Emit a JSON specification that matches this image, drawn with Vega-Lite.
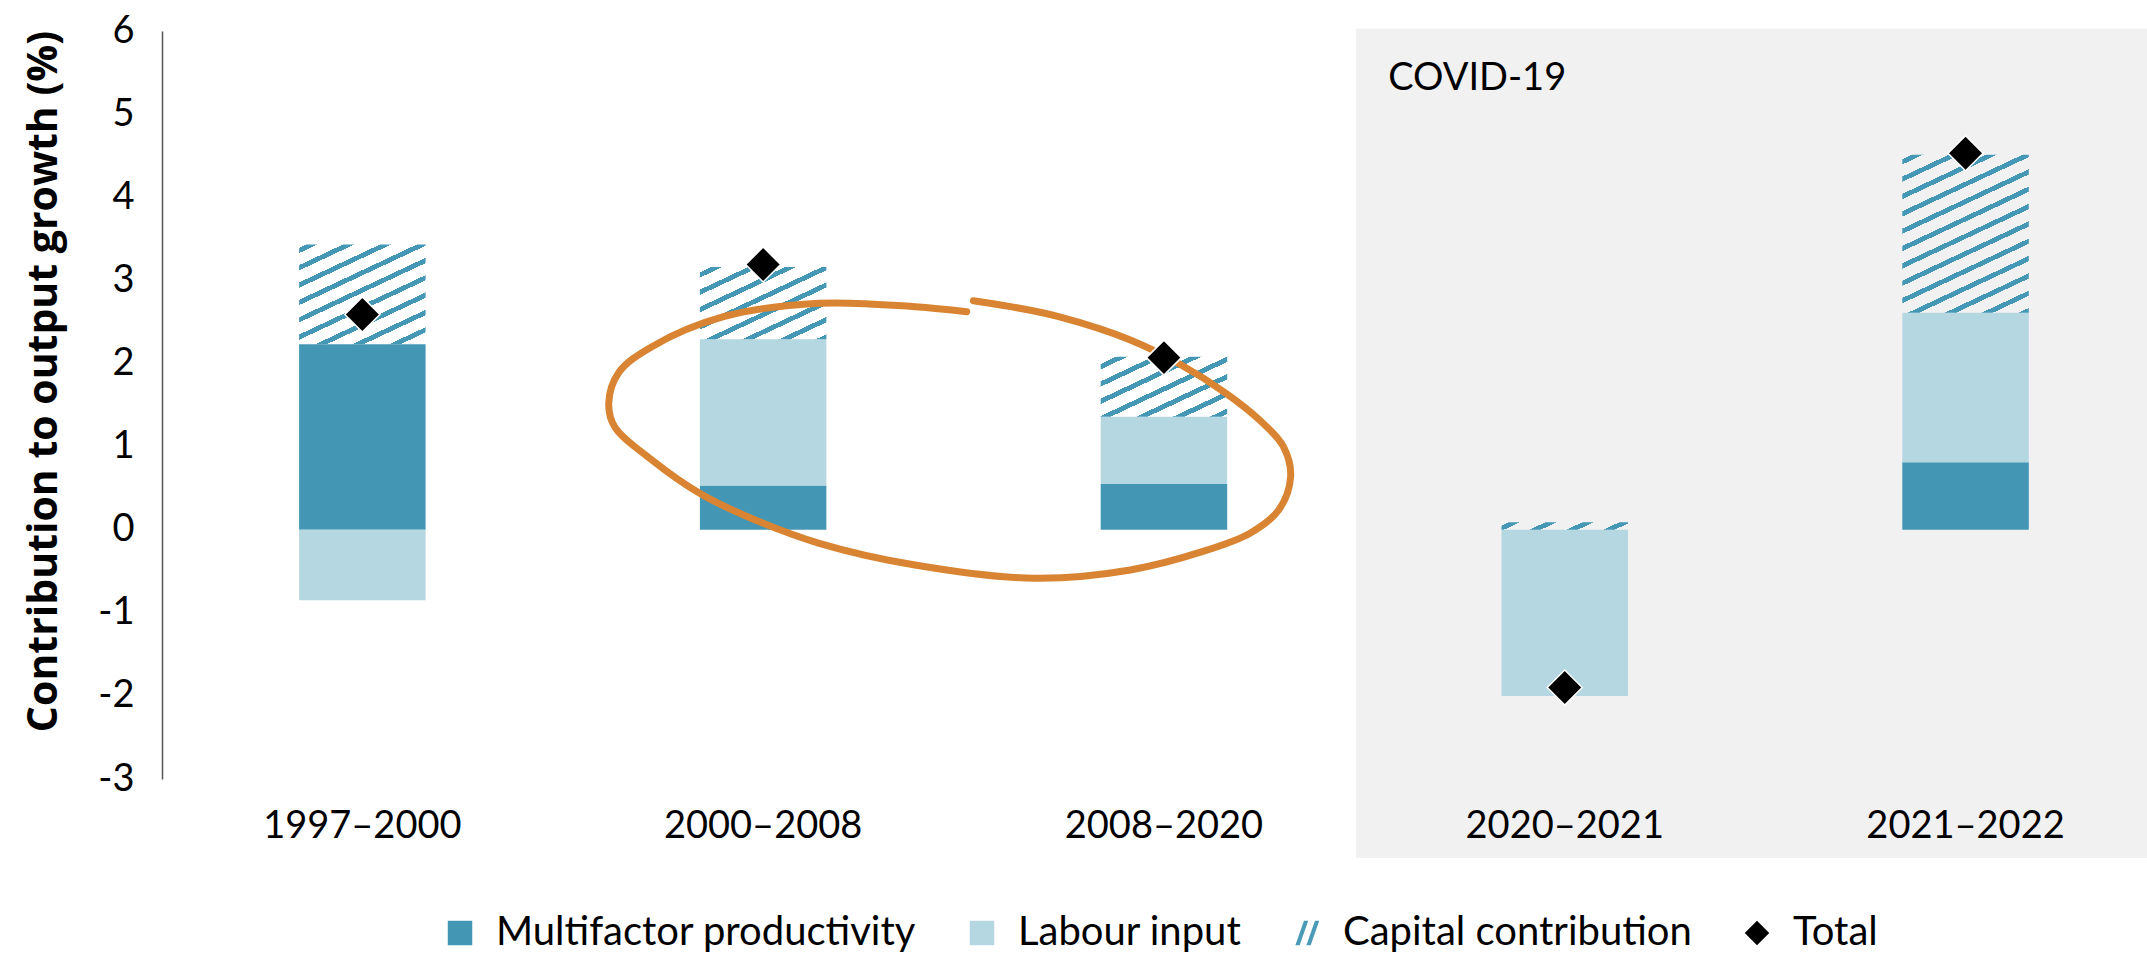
{
  "$schema": "https://vega.github.io/schema/vega-lite/v6.json",
  "width": 1985,
  "height": 748,
  "autosize": "none",
  "padding": {"left": 162, "top": 31, "right": 0, "bottom": 176},
  "background": "white",
  "config": {
    "view": {"stroke": null},
    "font": "Lato",
    "axis": {"labelColor": "#000000", "titleColor": "#000000", "labelFont": "Lato", "titleFont": "Lato", "zindex": 1},
    "axisY": {"titleFont": "Open Sans", "titleFontSize": 41, "titleFontWeight": "bold", "titleY": 350, "titlePadding": 32},
    "legend": {"labelFont": "Lato", "labelColor": "#000000"}
  },
  "datasets": {
    "bars": [
      {"period": "1997–2000", "component": "Multifactor productivity", "value": 2.23, "ord": 1},
      {"period": "1997–2000", "component": "Labour input", "value": -0.85, "ord": 2},
      {"period": "1997–2000", "component": "Capital contribution", "value": 1.20, "ord": 3},
      {"period": "2000–2008", "component": "Multifactor productivity", "value": 0.53, "ord": 1},
      {"period": "2000–2008", "component": "Labour input", "value": 1.76, "ord": 2},
      {"period": "2000–2008", "component": "Capital contribution", "value": 0.87, "ord": 3},
      {"period": "2008–2020", "component": "Multifactor productivity", "value": 0.55, "ord": 1},
      {"period": "2008–2020", "component": "Labour input", "value": 0.81, "ord": 2},
      {"period": "2008–2020", "component": "Capital contribution", "value": 0.72, "ord": 3},
      {"period": "2020–2021", "component": "Multifactor productivity", "value": 0.0, "ord": 1},
      {"period": "2020–2021", "component": "Labour input", "value": -2.0, "ord": 2},
      {"period": "2020–2021", "component": "Capital contribution", "value": 0.09, "ord": 3},
      {"period": "2021–2022", "component": "Multifactor productivity", "value": 0.81, "ord": 1},
      {"period": "2021–2022", "component": "Labour input", "value": 1.80, "ord": 2},
      {"period": "2021–2022", "component": "Capital contribution", "value": 1.90, "ord": 3}
    ],
    "totals": [
      {"period": "1997–2000", "component": "Total", "value": 2.59},
      {"period": "2000–2008", "component": "Total", "value": 3.19},
      {"period": "2008–2020", "component": "Total", "value": 2.07},
      {"period": "2020–2021", "component": "Total", "value": -1.90},
      {"period": "2021–2022", "component": "Total", "value": 4.53}
    ],
    "covid": [
      {"x0": 3.479, "x1": 5.47, "y0": 6.03, "y1": -3.95, "lx": 3.559, "ly": 5.29, "label": "COVID-19"}
    ],
    "ellipse": [
      {"ord": 1, "ix": 2.5075, "v": 2.623},
      {"ord": 2, "ix": 2.3785, "v": 2.683},
      {"ord": 3, "ix": 2.1397, "v": 2.724},
      {"ord": 4, "ix": 1.9010, "v": 2.563},
      {"ord": 5, "ix": 1.7221, "v": 2.202},
      {"ord": 6, "ix": 1.6400, "v": 1.893},
      {"ord": 7, "ix": 1.6145, "v": 1.521},
      {"ord": 8, "ix": 1.6297, "v": 1.235},
      {"ord": 9, "ix": 1.7221, "v": 0.839},
      {"ord": 10, "ix": 1.8413, "v": 0.438},
      {"ord": 11, "ix": 1.9608, "v": 0.156},
      {"ord": 12, "ix": 2.1397, "v": -0.164},
      {"ord": 13, "ix": 2.3785, "v": -0.425},
      {"ord": 14, "ix": 2.6769, "v": -0.585},
      {"ord": 15, "ix": 2.9157, "v": -0.485},
      {"ord": 16, "ix": 3.0948, "v": -0.265},
      {"ord": 17, "ix": 3.2143, "v": -0.043},
      {"ord": 18, "ix": 3.2859, "v": 0.237},
      {"ord": 19, "ix": 3.3156, "v": 0.638},
      {"ord": 20, "ix": 3.2976, "v": 0.999},
      {"ord": 21, "ix": 3.2380, "v": 1.320},
      {"ord": 22, "ix": 3.1544, "v": 1.641},
      {"ord": 23, "ix": 3.0352, "v": 2.002},
      {"ord": 24, "ix": 2.9157, "v": 2.283},
      {"ord": 25, "ix": 2.7368, "v": 2.563},
      {"ord": 26, "ix": 2.6173, "v": 2.683},
      {"ord": 27, "ix": 2.5242, "v": 2.755}
    ]
  },
  "layer": [
    {
      "data": {"name": "covid"},
      "mark": {"type": "rect", "color": "#f1f1f1"},
      "encoding": {
        "x": {"field": "x0", "type": "quantitative", "scale": {"domain": [0.5, 5.452], "nice": false, "zero": false}, "axis": null},
        "x2": {"field": "x1"},
        "y": {"field": "y0", "type": "quantitative", "title": "Contribution to output growth (%)", "scale": {"domain": [-3, 6], "nice": false, "zero": false},
          "axis": {"orient": "left", "values": [-3, -2, -1, 0, 1, 2, 3, 4, 5, 6], "labelExpr": "'' + datum.value", "grid": false, "ticks": false, "domain": true, "domainColor": "#555555", "domainWidth": 1.5, "labelFontSize": 38, "labelPadding": 28}},
        "y2": {"field": "y1"}
      }
    },
    {
      "data": {"name": "covid"},
      "mark": {"type": "text", "align": "left", "baseline": "alphabetic", "fontSize": 38, "font": "Lato", "color": "#000000"},
      "encoding": {
        "x": {"field": "lx", "type": "quantitative", "scale": {"domain": [0.5, 5.452], "nice": false, "zero": false}, "axis": null},
        "y": {"field": "ly", "type": "quantitative", "title": "Contribution to output growth (%)", "scale": {"domain": [-3, 6], "nice": false, "zero": false},
          "axis": {"orient": "left", "values": [-3, -2, -1, 0, 1, 2, 3, 4, 5, 6], "labelExpr": "'' + datum.value", "grid": false, "ticks": false, "domain": true, "domainColor": "#555555", "domainWidth": 1.5, "labelFontSize": 38, "labelPadding": 28}},
        "text": {"field": "label"}
      }
    },
    {
      "data": {"name": "bars"},
      "transform": [
        {"stack": "value", "groupby": ["period"], "sort": [{"field": "ord", "order": "ascending"}], "as": ["y0", "y1"]},
        {"filter": "datum.component !== 'Capital contribution'"}
      ],
      "mark": {"type": "bar"},
      "encoding": {
        "x": {"field": "period", "type": "nominal", "sort": null,
          "scale": {"type": "band", "domain": ["1997–2000", "2000–2008", "2008–2020", "2020–2021", "2021–2022"], "paddingInner": 0.6844, "paddingOuter": 0.3185, "align": 0.537},
          "axis": {"title": null, "domain": false, "ticks": false, "labelFontSize": 38, "labelPadding": 28, "labelAngle": 0, "labelColor": "#000000", "labelLimit": 0, "zindex": 1}},
        "y": {"field": "y0", "type": "quantitative", "title": "Contribution to output growth (%)", "scale": {"domain": [-3, 6], "nice": false, "zero": false},
          "axis": {"orient": "left", "values": [-3, -2, -1, 0, 1, 2, 3, 4, 5, 6], "labelExpr": "'' + datum.value", "grid": false, "ticks": false, "domain": true, "domainColor": "#555555", "domainWidth": 1.5, "labelFontSize": 38, "labelPadding": 28}},
        "y2": {"field": "y1"},
        "fill": {"field": "component", "type": "nominal", "legend": null,
          "scale": {"domain": ["Multifactor productivity", "Labour input"], "range": ["#4397b5", "#b5d7e1"]}}
      }
    },
    {
      "data": {"name": "bars"},
      "transform": [
        {"stack": "value", "groupby": ["period"], "sort": [{"field": "ord", "order": "ascending"}], "as": ["y0", "y1"]},
        {"filter": "datum.component === 'Capital contribution' && datum.period === '1997–2000'"}
      ],
      "mark": {"type": "bar", "fill": {"gradient": "linear", "x1": 0, "y1": 0, "x2": 0.7020, "y2": 1.1777, "stops": [
        {"offset": 0, "color": "rgba(255,255,255,0)"},
        {"offset": 0.02, "color": "rgba(255,255,255,0)"}, {"offset": 0.02, "color": "#4597b6"}, {"offset": 0.0535, "color": "#4597b6"}, {"offset": 0.0535, "color": "rgba(255,255,255,0)"},
        {"offset": 0.129, "color": "rgba(255,255,255,0)"}, {"offset": 0.129, "color": "#4597b6"}, {"offset": 0.1625, "color": "#4597b6"}, {"offset": 0.1625, "color": "rgba(255,255,255,0)"},
        {"offset": 0.238, "color": "rgba(255,255,255,0)"}, {"offset": 0.238, "color": "#4597b6"}, {"offset": 0.2715, "color": "#4597b6"}, {"offset": 0.2715, "color": "rgba(255,255,255,0)"},
        {"offset": 0.3469, "color": "rgba(255,255,255,0)"}, {"offset": 0.3469, "color": "#4597b6"}, {"offset": 0.3804, "color": "#4597b6"}, {"offset": 0.3804, "color": "rgba(255,255,255,0)"},
        {"offset": 0.4559, "color": "rgba(255,255,255,0)"}, {"offset": 0.4559, "color": "#4597b6"}, {"offset": 0.4894, "color": "#4597b6"}, {"offset": 0.4894, "color": "rgba(255,255,255,0)"},
        {"offset": 0.5649, "color": "rgba(255,255,255,0)"}, {"offset": 0.5649, "color": "#4597b6"}, {"offset": 0.5984, "color": "#4597b6"}, {"offset": 0.5984, "color": "rgba(255,255,255,0)"},
        {"offset": 0.6739, "color": "rgba(255,255,255,0)"}, {"offset": 0.6739, "color": "#4597b6"}, {"offset": 0.7074, "color": "#4597b6"}, {"offset": 0.7074, "color": "rgba(255,255,255,0)"},
        {"offset": 0.7829, "color": "rgba(255,255,255,0)"}, {"offset": 0.7829, "color": "#4597b6"}, {"offset": 0.8164, "color": "#4597b6"}, {"offset": 0.8164, "color": "rgba(255,255,255,0)"},
        {"offset": 0.8918, "color": "rgba(255,255,255,0)"}, {"offset": 0.8918, "color": "#4597b6"}, {"offset": 0.9253, "color": "#4597b6"}, {"offset": 0.9253, "color": "rgba(255,255,255,0)"},
        {"offset": 1, "color": "rgba(255,255,255,0)"}
      ]}},
      "encoding": {
        "x": {"field": "period", "type": "nominal", "sort": null, "scale": {"type": "band", "domain": ["1997–2000", "2000–2008", "2008–2020", "2020–2021", "2021–2022"], "paddingInner": 0.6844, "paddingOuter": 0.3185, "align": 0.537}, "axis": null},
        "y": {"field": "y0", "type": "quantitative", "title": "Contribution to output growth (%)", "scale": {"domain": [-3, 6], "nice": false, "zero": false},
          "axis": {"orient": "left", "values": [-3, -2, -1, 0, 1, 2, 3, 4, 5, 6], "labelExpr": "'' + datum.value", "grid": false, "ticks": false, "domain": true, "domainColor": "#555555", "domainWidth": 1.5, "labelFontSize": 38, "labelPadding": 28}},
        "y2": {"field": "y1"}
      }
    },
    {
      "data": {"name": "bars"},
      "transform": [
        {"stack": "value", "groupby": ["period"], "sort": [{"field": "ord", "order": "ascending"}], "as": ["y0", "y1"]},
        {"filter": "datum.component === 'Capital contribution' && datum.period === '2000–2008'"}
      ],
      "mark": {"type": "bar", "fill": {"gradient": "linear", "x1": 0, "y1": 0, "x2": 0.8938, "y2": 1.0872, "stops": [
        {"offset": 0, "color": "rgba(255,255,255,0)"},
        {"offset": 0.04, "color": "rgba(255,255,255,0)"}, {"offset": 0.04, "color": "#4597b6"}, {"offset": 0.0805, "color": "#4597b6"}, {"offset": 0.0805, "color": "rgba(255,255,255,0)"},
        {"offset": 0.1717, "color": "rgba(255,255,255,0)"}, {"offset": 0.1717, "color": "#4597b6"}, {"offset": 0.2122, "color": "#4597b6"}, {"offset": 0.2122, "color": "rgba(255,255,255,0)"},
        {"offset": 0.3033, "color": "rgba(255,255,255,0)"}, {"offset": 0.3033, "color": "#4597b6"}, {"offset": 0.3438, "color": "#4597b6"}, {"offset": 0.3438, "color": "rgba(255,255,255,0)"},
        {"offset": 0.435, "color": "rgba(255,255,255,0)"}, {"offset": 0.435, "color": "#4597b6"}, {"offset": 0.4755, "color": "#4597b6"}, {"offset": 0.4755, "color": "rgba(255,255,255,0)"},
        {"offset": 0.5667, "color": "rgba(255,255,255,0)"}, {"offset": 0.5667, "color": "#4597b6"}, {"offset": 0.6072, "color": "#4597b6"}, {"offset": 0.6072, "color": "rgba(255,255,255,0)"},
        {"offset": 0.6984, "color": "rgba(255,255,255,0)"}, {"offset": 0.6984, "color": "#4597b6"}, {"offset": 0.7389, "color": "#4597b6"}, {"offset": 0.7389, "color": "rgba(255,255,255,0)"},
        {"offset": 0.83, "color": "rgba(255,255,255,0)"}, {"offset": 0.83, "color": "#4597b6"}, {"offset": 0.8705, "color": "#4597b6"}, {"offset": 0.8705, "color": "rgba(255,255,255,0)"},
        {"offset": 0.9617, "color": "rgba(255,255,255,0)"}, {"offset": 0.9617, "color": "#4597b6"}, {"offset": 1, "color": "#4597b6"}
      ]}},
      "encoding": {
        "x": {"field": "period", "type": "nominal", "sort": null, "scale": {"type": "band", "domain": ["1997–2000", "2000–2008", "2008–2020", "2020–2021", "2021–2022"], "paddingInner": 0.6844, "paddingOuter": 0.3185, "align": 0.537}, "axis": null},
        "y": {"field": "y0", "type": "quantitative", "title": "Contribution to output growth (%)", "scale": {"domain": [-3, 6], "nice": false, "zero": false},
          "axis": {"orient": "left", "values": [-3, -2, -1, 0, 1, 2, 3, 4, 5, 6], "labelExpr": "'' + datum.value", "grid": false, "ticks": false, "domain": true, "domainColor": "#555555", "domainWidth": 1.5, "labelFontSize": 38, "labelPadding": 28}},
        "y2": {"field": "y1"}
      }
    },
    {
      "data": {"name": "bars"},
      "transform": [
        {"stack": "value", "groupby": ["period"], "sort": [{"field": "ord", "order": "ascending"}], "as": ["y0", "y1"]},
        {"filter": "datum.component === 'Capital contribution' && datum.period === '2008–2020'"}
      ],
      "mark": {"type": "bar", "fill": {"gradient": "linear", "x1": 0, "y1": 0, "x2": 0.9967, "y2": 1.0034, "stops": [
        {"offset": 0, "color": "rgba(255,255,255,0)"},
        {"offset": 0.06, "color": "rgba(255,255,255,0)"}, {"offset": 0.06, "color": "#4597b6"}, {"offset": 0.1055, "color": "#4597b6"}, {"offset": 0.1055, "color": "rgba(255,255,255,0)"},
        {"offset": 0.2054, "color": "rgba(255,255,255,0)"}, {"offset": 0.2054, "color": "#4597b6"}, {"offset": 0.2509, "color": "#4597b6"}, {"offset": 0.2509, "color": "rgba(255,255,255,0)"},
        {"offset": 0.3508, "color": "rgba(255,255,255,0)"}, {"offset": 0.3508, "color": "#4597b6"}, {"offset": 0.3963, "color": "#4597b6"}, {"offset": 0.3963, "color": "rgba(255,255,255,0)"},
        {"offset": 0.4963, "color": "rgba(255,255,255,0)"}, {"offset": 0.4963, "color": "#4597b6"}, {"offset": 0.5418, "color": "#4597b6"}, {"offset": 0.5418, "color": "rgba(255,255,255,0)"},
        {"offset": 0.6417, "color": "rgba(255,255,255,0)"}, {"offset": 0.6417, "color": "#4597b6"}, {"offset": 0.6872, "color": "#4597b6"}, {"offset": 0.6872, "color": "rgba(255,255,255,0)"},
        {"offset": 0.7871, "color": "rgba(255,255,255,0)"}, {"offset": 0.7871, "color": "#4597b6"}, {"offset": 0.8326, "color": "#4597b6"}, {"offset": 0.8326, "color": "rgba(255,255,255,0)"},
        {"offset": 0.9325, "color": "rgba(255,255,255,0)"}, {"offset": 0.9325, "color": "#4597b6"}, {"offset": 0.978, "color": "#4597b6"}, {"offset": 0.978, "color": "rgba(255,255,255,0)"},
        {"offset": 1, "color": "rgba(255,255,255,0)"}
      ]}},
      "encoding": {
        "x": {"field": "period", "type": "nominal", "sort": null, "scale": {"type": "band", "domain": ["1997–2000", "2000–2008", "2008–2020", "2020–2021", "2021–2022"], "paddingInner": 0.6844, "paddingOuter": 0.3185, "align": 0.537}, "axis": null},
        "y": {"field": "y0", "type": "quantitative", "title": "Contribution to output growth (%)", "scale": {"domain": [-3, 6], "nice": false, "zero": false},
          "axis": {"orient": "left", "values": [-3, -2, -1, 0, 1, 2, 3, 4, 5, 6], "labelExpr": "'' + datum.value", "grid": false, "ticks": false, "domain": true, "domainColor": "#555555", "domainWidth": 1.5, "labelFontSize": 38, "labelPadding": 28}},
        "y2": {"field": "y1"}
      }
    },
    {
      "data": {"name": "bars"},
      "transform": [
        {"stack": "value", "groupby": ["period"], "sort": [{"field": "ord", "order": "ascending"}], "as": ["y0", "y1"]},
        {"filter": "datum.component === 'Capital contribution' && datum.period === '2020–2021'"}
      ],
      "mark": {"type": "bar", "fill": {"gradient": "linear", "x1": 0, "y1": 0, "x2": 1.1082, "y2": 0.1394, "stops": [
        {"offset": 0, "color": "rgba(255,255,255,0)"},
        {"offset": 0.05, "color": "rgba(255,255,255,0)"}, {"offset": 0.05, "color": "#4597b6"}, {"offset": 0.13, "color": "#4597b6"}, {"offset": 0.13, "color": "rgba(255,255,255,0)"},
        {"offset": 0.3092, "color": "rgba(255,255,255,0)"}, {"offset": 0.3092, "color": "#4597b6"}, {"offset": 0.3892, "color": "#4597b6"}, {"offset": 0.3892, "color": "rgba(255,255,255,0)"},
        {"offset": 0.5684, "color": "rgba(255,255,255,0)"}, {"offset": 0.5684, "color": "#4597b6"}, {"offset": 0.6484, "color": "#4597b6"}, {"offset": 0.6484, "color": "rgba(255,255,255,0)"},
        {"offset": 0.8276, "color": "rgba(255,255,255,0)"}, {"offset": 0.8276, "color": "#4597b6"}, {"offset": 0.9076, "color": "#4597b6"}, {"offset": 0.9076, "color": "rgba(255,255,255,0)"},
        {"offset": 1, "color": "rgba(255,255,255,0)"}
      ]}},
      "encoding": {
        "x": {"field": "period", "type": "nominal", "sort": null, "scale": {"type": "band", "domain": ["1997–2000", "2000–2008", "2008–2020", "2020–2021", "2021–2022"], "paddingInner": 0.6844, "paddingOuter": 0.3185, "align": 0.537}, "axis": null},
        "y": {"field": "y0", "type": "quantitative", "title": "Contribution to output growth (%)", "scale": {"domain": [-3, 6], "nice": false, "zero": false},
          "axis": {"orient": "left", "values": [-3, -2, -1, 0, 1, 2, 3, 4, 5, 6], "labelExpr": "'' + datum.value", "grid": false, "ticks": false, "domain": true, "domainColor": "#555555", "domainWidth": 1.5, "labelFontSize": 38, "labelPadding": 28}},
        "y2": {"field": "y1"}
      }
    },
    {
      "data": {"name": "bars"},
      "transform": [
        {"stack": "value", "groupby": ["period"], "sort": [{"field": "ord", "order": "ascending"}], "as": ["y0", "y1"]},
        {"filter": "datum.component === 'Capital contribution' && datum.period === '2021–2022'"}
      ],
      "mark": {"type": "bar", "fill": {"gradient": "linear", "x1": 0, "y1": 0, "x2": 0.4539, "y2": 1.2056, "stops": [
        {"offset": 0, "color": "rgba(255,255,255,0)"},
        {"offset": 0.02, "color": "rgba(255,255,255,0)"}, {"offset": 0.02, "color": "#4597b6"}, {"offset": 0.0445, "color": "#4597b6"}, {"offset": 0.0445, "color": "rgba(255,255,255,0)"},
        {"offset": 0.0998, "color": "rgba(255,255,255,0)"}, {"offset": 0.0998, "color": "#4597b6"}, {"offset": 0.1243, "color": "#4597b6"}, {"offset": 0.1243, "color": "rgba(255,255,255,0)"},
        {"offset": 0.1796, "color": "rgba(255,255,255,0)"}, {"offset": 0.1796, "color": "#4597b6"}, {"offset": 0.2041, "color": "#4597b6"}, {"offset": 0.2041, "color": "rgba(255,255,255,0)"},
        {"offset": 0.2594, "color": "rgba(255,255,255,0)"}, {"offset": 0.2594, "color": "#4597b6"}, {"offset": 0.2839, "color": "#4597b6"}, {"offset": 0.2839, "color": "rgba(255,255,255,0)"},
        {"offset": 0.3392, "color": "rgba(255,255,255,0)"}, {"offset": 0.3392, "color": "#4597b6"}, {"offset": 0.3637, "color": "#4597b6"}, {"offset": 0.3637, "color": "rgba(255,255,255,0)"},
        {"offset": 0.4191, "color": "rgba(255,255,255,0)"}, {"offset": 0.4191, "color": "#4597b6"}, {"offset": 0.4436, "color": "#4597b6"}, {"offset": 0.4436, "color": "rgba(255,255,255,0)"},
        {"offset": 0.4989, "color": "rgba(255,255,255,0)"}, {"offset": 0.4989, "color": "#4597b6"}, {"offset": 0.5234, "color": "#4597b6"}, {"offset": 0.5234, "color": "rgba(255,255,255,0)"},
        {"offset": 0.5787, "color": "rgba(255,255,255,0)"}, {"offset": 0.5787, "color": "#4597b6"}, {"offset": 0.6032, "color": "#4597b6"}, {"offset": 0.6032, "color": "rgba(255,255,255,0)"},
        {"offset": 0.6585, "color": "rgba(255,255,255,0)"}, {"offset": 0.6585, "color": "#4597b6"}, {"offset": 0.683, "color": "#4597b6"}, {"offset": 0.683, "color": "rgba(255,255,255,0)"},
        {"offset": 0.7383, "color": "rgba(255,255,255,0)"}, {"offset": 0.7383, "color": "#4597b6"}, {"offset": 0.7628, "color": "#4597b6"}, {"offset": 0.7628, "color": "rgba(255,255,255,0)"},
        {"offset": 0.8181, "color": "rgba(255,255,255,0)"}, {"offset": 0.8181, "color": "#4597b6"}, {"offset": 0.8426, "color": "#4597b6"}, {"offset": 0.8426, "color": "rgba(255,255,255,0)"},
        {"offset": 0.8979, "color": "rgba(255,255,255,0)"}, {"offset": 0.8979, "color": "#4597b6"}, {"offset": 0.9224, "color": "#4597b6"}, {"offset": 0.9224, "color": "rgba(255,255,255,0)"},
        {"offset": 0.9777, "color": "rgba(255,255,255,0)"}, {"offset": 0.9777, "color": "#4597b6"}, {"offset": 1, "color": "#4597b6"}
      ]}},
      "encoding": {
        "x": {"field": "period", "type": "nominal", "sort": null, "scale": {"type": "band", "domain": ["1997–2000", "2000–2008", "2008–2020", "2020–2021", "2021–2022"], "paddingInner": 0.6844, "paddingOuter": 0.3185, "align": 0.537}, "axis": null},
        "y": {"field": "y0", "type": "quantitative", "title": "Contribution to output growth (%)", "scale": {"domain": [-3, 6], "nice": false, "zero": false},
          "axis": {"orient": "left", "values": [-3, -2, -1, 0, 1, 2, 3, 4, 5, 6], "labelExpr": "'' + datum.value", "grid": false, "ticks": false, "domain": true, "domainColor": "#555555", "domainWidth": 1.5, "labelFontSize": 38, "labelPadding": 28}},
        "y2": {"field": "y1"}
      }
    },
    {
      "mark": {"type": "rule", "color": "#666666", "strokeWidth": 1.5},
      "encoding": {
        "y": {"datum": 0, "type": "quantitative", "title": "Contribution to output growth (%)", "scale": {"domain": [-3, 6], "nice": false, "zero": false},
          "axis": {"orient": "left", "values": [-3, -2, -1, 0, 1, 2, 3, 4, 5, 6], "labelExpr": "'' + datum.value", "grid": false, "ticks": false, "domain": true, "domainColor": "#555555", "domainWidth": 1.5, "labelFontSize": 38, "labelPadding": 28}}
      }
    },
    {
      "data": {"name": "ellipse"},
      "mark": {"type": "line", "color": "#d98432", "strokeWidth": 7, "interpolate": "catmull-rom", "strokeCap": "round"},
      "encoding": {
        "x": {"field": "ix", "type": "quantitative", "scale": {"domain": [0.5, 5.452], "nice": false, "zero": false}, "axis": null},
        "y": {"field": "v", "type": "quantitative", "title": "Contribution to output growth (%)", "scale": {"domain": [-3, 6], "nice": false, "zero": false},
          "axis": {"orient": "left", "values": [-3, -2, -1, 0, 1, 2, 3, 4, 5, 6], "labelExpr": "'' + datum.value", "grid": false, "ticks": false, "domain": true, "domainColor": "#555555", "domainWidth": 1.5, "labelFontSize": 38, "labelPadding": 28}},
        "order": {"field": "ord", "type": "quantitative"}
      }
    },
    {
      "data": {"name": "totals"},
      "mark": {"type": "point", "filled": true, "size": 1225, "stroke": "#ffffff", "strokeWidth": 1.5, "opacity": 1},
      "encoding": {
        "x": {"field": "period", "type": "nominal", "sort": null, "scale": {"type": "band", "domain": ["1997–2000", "2000–2008", "2008–2020", "2020–2021", "2021–2022"], "paddingInner": 0.6844, "paddingOuter": 0.3185, "align": 0.537}, "axis": null},
        "y": {"field": "value", "type": "quantitative", "title": "Contribution to output growth (%)", "scale": {"domain": [-3, 6], "nice": false, "zero": false},
          "axis": {"orient": "left", "values": [-3, -2, -1, 0, 1, 2, 3, 4, 5, 6], "labelExpr": "'' + datum.value", "grid": false, "ticks": false, "domain": true, "domainColor": "#555555", "domainWidth": 1.5, "labelFontSize": 38, "labelPadding": 28}},
        "color": {"field": "component", "type": "nominal",
          "scale": {"domain": ["Multifactor productivity", "Labour input", "Capital contribution", "Total"], "range": ["#4397b5", "#b5d7e1", "#4a9bb8", "#000000"]},
          "legend": {"title": null, "orient": "none", "legendX": 278, "legendY": 882, "direction": "horizontal", "columns": 4, "labelFontSize": 40, "labelFont": "Lato", "labelColor": "#000000", "labelLimit": 0, "symbolSize": 600, "labelOffset": 16, "columnPadding": 45, "symbolStrokeWidth": 0, "symbolOpacity": 1}},
        "shape": {"field": "component", "type": "nominal",
          "scale": {"domain": ["Multifactor productivity", "Labour input", "Capital contribution", "Total"], "range": ["square", "square", "M-0.95,1L-0.6,1L0.1,-1L-0.25,-1Z M-0.05,1L0.3,1L1,-1L0.65,-1Z", "diamond"]},
          "legend": {"title": null, "orient": "none", "legendX": 278, "legendY": 882, "direction": "horizontal", "columns": 4, "labelFontSize": 40, "labelFont": "Lato", "labelColor": "#000000", "labelLimit": 0, "symbolSize": 600, "labelOffset": 16, "columnPadding": 45, "symbolStrokeWidth": 0, "symbolOpacity": 1}}
      }
    }
  ],
  "resolve": {"scale": {"x": "independent"}}
}
